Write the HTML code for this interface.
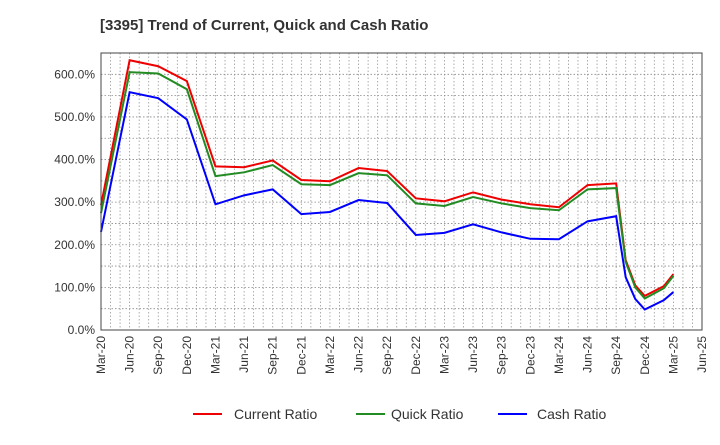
<!DOCTYPE html>
<html><head><meta charset="utf-8"><style>
body{margin:0;background:#fff;font-family:"Liberation Sans",sans-serif;}
svg text{font-family:"Liberation Sans",sans-serif;}
</style></head><body>
<svg id="chart" width="720" height="440" xmlns="http://www.w3.org/2000/svg">
<text x="100" y="30" font-size="15" font-weight="bold" fill="#333">[3395]  Trend of Current, Quick and Cash Ratio</text>
<g id="grid"></g><g id="series"></g><g id="axes"></g>
<g>
<g><line x1="193" y1="414" x2="222" y2="414" stroke="#e00" stroke-width="2"/><text x="234" y="419" font-size="14" fill="#333">Current Ratio</text></g>
<g><line x1="356" y1="414" x2="385" y2="414" stroke="#228b22" stroke-width="2"/><text x="391" y="419" font-size="14" fill="#333">Quick Ratio</text></g>
<g><line x1="498" y1="414" x2="527" y2="414" stroke="#00f" stroke-width="2"/><text x="537" y="419" font-size="14" fill="#333">Cash Ratio</text></g>
</g>
</svg>
<script>
const months=[0,3,6,9,12,15,18,21,24,27,30,33,36,39,42,45,48,51,54,55,56,57,59,60];
const currentRatio=[293,633,619,584,384,382,398,352,349,380,373,309,302,323,306,295,288,340,344,164,105,80,103,131];
const quickRatio=[274,605,602,565,361,370,387,342,340,368,363,297,291,312,297,286,281,330,333,160,100,74,98,127];
const cashRatio=[230,558,544,494,295,316,330,272,277,305,298,223,228,248,229,214,213,255,267,124,73,48,70,89];
const tickLabels=["Mar-20","Jun-20","Sep-20","Dec-20","Mar-21","Jun-21","Sep-21","Dec-21","Mar-22","Jun-22","Sep-22","Dec-22","Mar-23","Jun-23","Sep-23","Dec-23","Mar-24","Jun-24","Sep-24","Dec-24","Mar-25","Jun-25"];
const yTicks=[0,100,200,300,400,500,600];
const L=101,R=702,T=53,B=330,YMAX=650,XMAX=63;
const xs=m=>L+(R-L)*m/XMAX, ys=v=>B-(B-T)*v/YMAX;
const NS="http://www.w3.org/2000/svg";
function mk(tag,parent){const e=document.createElementNS(NS,tag);document.getElementById(parent).appendChild(e);return e;}
for(let m=1;m<XMAX;m++){const l=mk('line','grid');


l.setAttribute('x1',xs(m));l.setAttribute('x2',xs(m));l.setAttribute('y1',T);l.setAttribute('y2',B);l.setAttribute('stroke','#999');l.setAttribute('stroke-dasharray','1.5,2');l.setAttribute('stroke-width','0.8');}
for(let v=50;v<YMAX;v+=50){const l=mk('line','grid');


l.setAttribute('x1',L);l.setAttribute('x2',R);l.setAttribute('y1',ys(v));l.setAttribute('y2',ys(v));l.setAttribute('stroke','#888');l.setAttribute('stroke-dasharray','1.5,2');l.setAttribute('stroke-width','0.8');}
[[currentRatio,'#e00','current-ratio-line'],[quickRatio,'#228b22','quick-ratio-line'],[cashRatio,'#00f','cash-ratio-line']].forEach(([d,c,n])=>{
const p=mk('polyline','series');


p.setAttribute('points',d.map((v,i)=>xs(months[i])+','+ys(v)).join(' '));p.setAttribute('fill','none');p.setAttribute('stroke',c);p.setAttribute('stroke-width','2');});
const f=mk('rect','axes');


f.setAttribute('x',L);f.setAttribute('y',T);f.setAttribute('width',R-L);f.setAttribute('height',B-T);f.setAttribute('fill','none');f.setAttribute('stroke','#444');
yTicks.forEach(v=>{const t=mk('text','axes');


t.setAttribute('x',L-6);t.setAttribute('y',ys(v)+4);t.setAttribute('text-anchor','end');t.setAttribute('font-size','12');t.setAttribute('fill','#333');t.textContent=v.toFixed(1)+'%';});
tickLabels.forEach((s,i)=>{const x=xs(i*3);const t=mk('text','axes');


t.setAttribute('transform','translate('+(x+4)+','+(B+6)+') rotate(-90)');t.setAttribute('text-anchor','end');t.setAttribute('font-size','12');t.setAttribute('fill','#333');t.textContent=s;});
</script>
</body></html>
